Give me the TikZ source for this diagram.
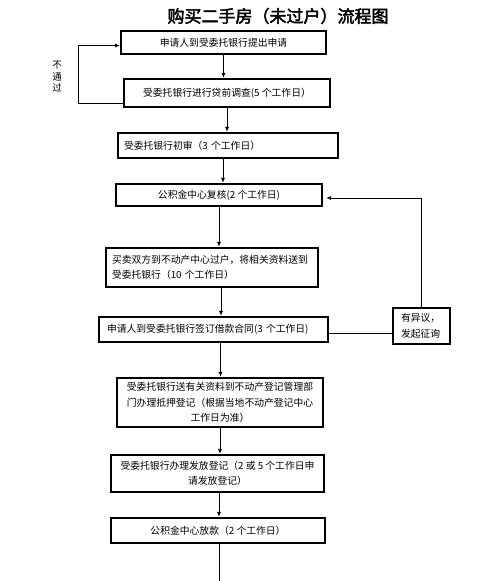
\documentclass[tikz,border=0pt]{standalone}
\usepackage{fontspec}
\setmainfont{Noto Sans CJK SC}[AutoFakeBold=2.5]
\usetikzlibrary{arrows.meta}

\begin{document}
\begin{tikzpicture}[x=1pt,y=-1pt,>={Latex[length=5pt,width=4pt]},line width=1pt,
    proc node/.style={draw,line width=1.1pt,inner xsep=6pt,inner ysep=2pt,align=center,font=\fontsize{9.8}{15.5}\selectfont},
    side node/.style={proc node,align=left},
    flow/.style={->,shorten >=0.5pt}]

            \useasboundingbox (0,0) rectangle (500,581);

            \node (title) at (278,16) {\bfseries\fontsize{17}{20}\selectfont 购买二手房（未过户）流程图};

            \node[proc node, minimum width=205, minimum height=23] (1) at (223.5,42.5) {申请人到受委托银行提出申请};
            \node[proc node, minimum width=206, minimum height=28] (2) at (227,93) {受委托银行进行贷前调查(5 个工作日）};
            \node[side node, text width=208, minimum height=25] (3) at (228,145.5) {受委托银行初审（3 个工作日）};
            \node[proc node, minimum width=206, minimum height=22] (4) at (219,195) {公积金中心复核(2 个工作日)};
            \node[side node, text width=200, minimum height=39] (5) at (212,267.5) {买卖双方到不动产中心过户，将相关资料送到\\受委托银行（10 个工作日）};
            \node[side node, inner xsep=8pt, text width=213, minimum height=25] (6) at (213.5,329.5) {申请人到受委托银行签订借款合同(3 个工作日)};
            \node[side node, inner xsep=8pt, text width=41, minimum height=36] (ask) at (421.5,326) {有异议，\\发起征询};
            \node[proc node, minimum width=206, minimum height=49] (7) at (220,402.5) {受委托银行送有关资料到不动产登记管理部\\门办理抵押登记（根据当地不动产登记中心\\工作日为准）};
            \node[proc node, minimum width=213, minimum height=37] (8) at (217.5,473.5) {受委托银行办理发放登记（2 或 5 个工作日申\\请发放登记）};
            \node[proc node, minimum width=214, minimum height=25] (9) at (218,530.5) {公积金中心放款（2 个工作日）};
            \coordinate (end) at (219,581);

            \node[font=\fontsize{9.5}{11.5}\selectfont, align=center] (no) at (57,77) {不\\通\\过};

            \draw[flow] (1.south) to (1.south |- 2.north);
            \draw[flow] (2.south) to (2.south |- 3.north);
            \draw[flow] ([xshift=-5pt]3.south) to ([xshift=-5pt]3.south |- 4.north);
            \draw[flow] (4.south) to (4.south |- 5.north);
            \draw[flow] ([xshift=9pt]5.south) to ([xshift=9pt]5.south |- 6.north);
            \draw[flow] ([xshift=7pt]6.south) to ([xshift=7pt]6.south |- 7.north);
            \draw[flow] (7.south) to (7.south |- 8.north);
            \draw[flow] ([xshift=1.5pt]8.south) to ([xshift=1.5pt]8.south |- 9.north);
            \draw[-] ([xshift=1pt]9.south) to ([xshift=1pt]9.south |- end);

            \draw[flow] ([yshift=-10pt]2.west) -- ++(-45,0) |- ([yshift=-3pt]1.west);
            \draw[-] ([yshift=-3.5pt]6.east) to ([yshift=-3.5pt]6.east -| ask.west);
            \draw[flow] (ask.north) |- ([xshift=3pt,yshift=-3pt]4.east);

            ;
        \end{tikzpicture}
\end{document}
